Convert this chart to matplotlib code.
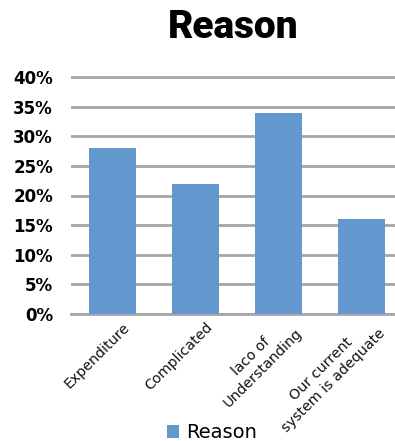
import matplotlib
matplotlib.use("Agg")
import matplotlib.pyplot as plt
from matplotlib.patches import Patch
from matplotlib.ticker import PercentFormatter

categories = ["Expenditure", "Complicated", "laco of\nUnderstanding", "Our current\nsystem is adequate"]
values = [0.28, 0.22, 0.34, 0.16]
yticks = [0.0, 0.05, 0.10, 0.15, 0.20, 0.25, 0.30, 0.35, 0.40]
series_name = "Reason"

bar_color = "#6398CE"
grid_color = "#A6A6A6"

W, H = 395, 441
fig = plt.figure(figsize=(W / 100, H / 100), dpi=100)

# axes placed in pixel terms: plot spans x 71..395, y from 0% at 314 px
left_px, right_px = 71, 395
zero_px, per_unit = 314, 592.5
ymax = 0.405
top_px = zero_px - ymax * per_unit
ax = fig.add_axes([left_px / W, 1 - zero_px / H, (right_px - left_px) / W, (zero_px - top_px) / H])

xs = list(range(len(categories)))
ax.bar(xs, values, width=0.57, color=bar_color, zorder=3)

ax.set_ylim(0, ymax)
step = 83
ax.set_xlim(-0.5, -0.5 + (right_px - left_px) / step)
ax.set_yticks(yticks)
ax.yaxis.set_major_formatter(PercentFormatter(1.0, decimals=0))
ax.grid(axis="y", color=grid_color, linewidth=2, zorder=0)
ax.set_axisbelow(True)
for s in ["top", "right", "left"]:
    ax.spines[s].set_visible(False)
ax.spines["bottom"].set_color(grid_color)
ax.spines["bottom"].set_linewidth(2)
ax.tick_params(axis="y", length=0, pad=13, labelsize=12)
for lbl in ax.get_yticklabels():
    lbl.set_fontfamily("DejaVu Sans")
    lbl.set_fontweight("bold")
ax.tick_params(axis="x", length=0)
ax.set_xticks(xs)
ax.set_xticklabels([])

for x, name in zip(xs, categories):
    ax.annotate(name, xy=(x, 0), xycoords=("data", "axes fraction"),
                xytext=(11, -8), textcoords="offset points",
                rotation=45, rotation_mode="anchor", ha="right", va="center",
                multialignment="center", fontsize=10.3, fontfamily="DejaVu Sans",
                color="#111111")

fig.text((left_px + right_px) / 2 / W, 1 - 28 / H, series_name, ha="center", va="center",
         fontsize=28, fontweight="black", fontfamily="Roboto")

handle = Patch(facecolor=bar_color, edgecolor="none", label=series_name)
fig.legend(handles=[handle], loc="center", bbox_to_anchor=(212 / W, 1 - 433 / H),
           frameon=False, handlelength=0.6, handleheight=0.6,
           handletextpad=0.35, prop={"family": "DejaVu Sans", "size": 14})

fig.savefig("out.png", dpi=100)
